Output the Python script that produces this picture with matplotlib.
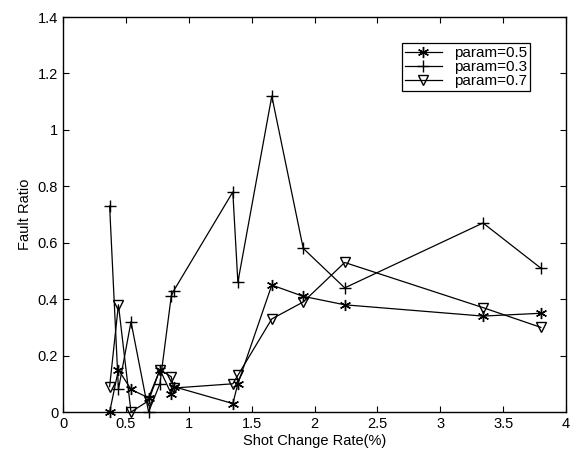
import numpy as np
import matplotlib
matplotlib.use("Agg")
import matplotlib.pyplot as plt

plt.rcParams['font.family'] = ['Liberation Sans', 'DejaVu Sans']

# shot change rate (%) shared by all three runs
rate = [0.37, 0.44, 0.54, 0.68, 0.77, 0.86, 0.88, 1.35, 1.39, 1.66, 1.91, 2.24, 3.34, 3.80]

fault_05 = [0.0, 0.15, 0.08, 0.05, 0.15, 0.065, 0.09, 0.03, 0.10, 0.45, 0.41, 0.38, 0.34, 0.35]
fault_03 = [0.73, 0.08, 0.32, 0.0, 0.10, 0.41, 0.43, 0.78, 0.46, 1.12, 0.58, 0.44, 0.67, 0.51]
fault_07 = [0.09, 0.38, 0.0, 0.04, 0.15, 0.125, 0.085, 0.10, 0.13, 0.33, 0.39, 0.53, 0.37, 0.30]

labels = ['param=0.5', 'param=0.3', 'param=0.7']

fig = plt.figure(figsize=(5.79, 4.55), dpi=100)
ax = fig.add_axes([0.109, 0.0945, 0.8685, 0.868])

ax.plot(rate, fault_05, 'k-', marker=(6, 2, 0), markersize=8, lw=0.9, clip_on=False, label=labels[0])
ax.plot(rate, fault_03, 'k-', marker='+', markersize=9, mew=1.0, lw=0.9, clip_on=False, label=labels[1])
ax.plot(rate, fault_07, 'k-', marker='v', markersize=7, mfc='none', lw=0.9, clip_on=False, label=labels[2])

ax.set_xlim(0, 4)
ax.set_ylim(0, 1.4)
ax.set_xticks(np.arange(0, 4.01, 0.5))
ax.set_xticklabels(['0', '0.5', '1', '1.5', '2', '2.5', '3', '3.5', '4'])
ax.set_yticks(np.arange(0, 1.41, 0.2))
ax.set_yticklabels(['0', '0.2', '0.4', '0.6', '0.8', '1', '1.2', '1.4'])
ax.tick_params(direction='in', top=True, right=True, labelsize=10.5, length=4)
for s in ax.spines.values():
    s.set_linewidth(1.0)

ax.set_xlabel('Shot Change Rate(%)', fontsize=10.5, labelpad=2)
ax.set_ylabel('Fault Ratio', fontsize=10.5, labelpad=4)

leg = ax.legend(loc='upper left', bbox_to_anchor=(0.674, 0.934), fontsize=11,
                fancybox=False, edgecolor='black', framealpha=1, handlelength=2.4,
                borderpad=0.2, labelspacing=0.0, handletextpad=0.8, borderaxespad=0)
leg.get_frame().set_linewidth(0.9)

fig.savefig('out.png', dpi=100)
